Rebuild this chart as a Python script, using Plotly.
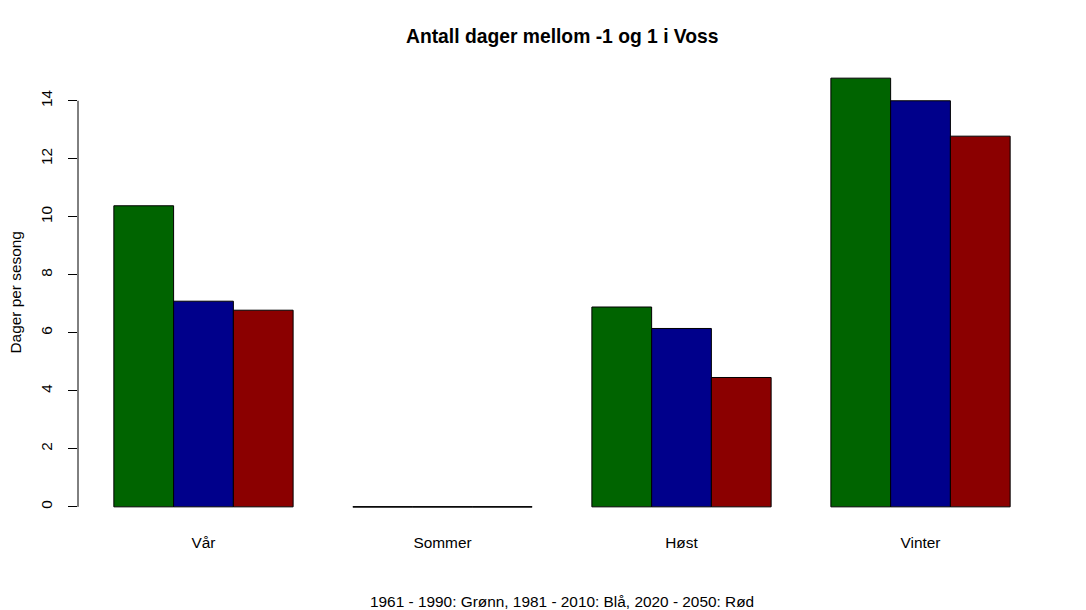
import plotly.graph_objects as go

categories = ["Vår", "Sommer", "Høst", "Vinter"]
series_names = ["1961 - 1990", "1981 - 2010", "2020 - 2050"]
values_1961_1990 = [10.38, 0, 6.89, 14.78]
values_1981_2010 = [7.09, 0, 6.15, 14.0]
values_2020_2050 = [6.78, 0, 4.46, 12.78]
series_values = [values_1961_1990, values_1981_2010, values_2020_2050]
colors = ["#006400", "#00008B", "#8B0000"]
y_ticks = [0, 2, 4, 6, 8, 10, 12, 14]

title = "Antall dager mellom -1 og 1 i Voss"
ylab = "Dager per sesong"
xlab = "1961 - 1990: Grønn, 1981 - 2010: Blå, 2020 - 2050: Rød"

FONT = "Liberation Sans, Arial, sans-serif"
FS = 15.4

fig = go.Figure()
for name, vals, col in zip(series_names, series_values, colors):
    fig.add_trace(go.Bar(
        x=categories, y=vals, name=name,
        marker=dict(color=col, line=dict(color="black", width=1)),
    ))

bargap = 0.25
n = len(series_values)
bar_w = (1 - bargap) / n
shapes = []
# zero-height bars are drawn by R as a flat outline
for i, cat in enumerate(categories):
    for j, vals in enumerate(series_values):
        if vals[i] == 0:
            x0 = i - (1 - bargap) / 2 + j * bar_w
            shapes.append(dict(type="line", xref="x", yref="y",
                               x0=x0, x1=x0 + bar_w, y0=0, y1=0,
                               line=dict(color="black", width=1)))
# y axis line from first to last tick
shapes.append(dict(type="line", xref="paper", yref="y", x0=0, x1=0,
                   y0=y_ticks[0], y1=y_ticks[-1],
                   line=dict(color="black", width=1)))

ymax = max(max(v) for v in series_values)
pad = 0.04 * ymax

fig.update_layout(
    width=1078, height=602,
    margin=dict(l=70, r=40, t=53, b=86),
    paper_bgcolor="white", plot_bgcolor="white",
    barmode="group", bargap=bargap, bargroupgap=0,
    showlegend=False,
    font=dict(family=FONT, size=FS, color="black"),
    shapes=shapes,
    xaxis=dict(
        type="category", range=[-0.525, len(categories) - 1 + 0.525],
        showline=False, showgrid=False, zeroline=False, ticks="",
        tickfont=dict(family=FONT, size=FS, color="black"),
        ticklabelstandoff=8,
    ),
    yaxis=dict(
        range=[-pad, ymax + pad],
        tickvals=y_ticks, ticktext=[str(t) for t in y_ticks],
        showline=False, showgrid=False, zeroline=False,
        ticks="outside", ticklen=9, tickwidth=1, tickcolor="black",
        tickangle=-90, ticklabelstandoff=10,
        tickfont=dict(family=FONT, size=FS, color="black"),
    ),
    annotations=[
        dict(text="<b>" + title + "</b>", xref="paper", yref="paper",
             x=0.5, y=1, yanchor="middle", yshift=25, showarrow=False,
             font=dict(family=FONT, size=19.3, color="black")),
        dict(text=ylab, xref="paper", yref="paper", x=0, y=0.5,
             xanchor="center", yanchor="middle", xshift=-63, textangle=-90,
             showarrow=False, font=dict(family=FONT, size=FS, color="black")),
        dict(text=xlab, xref="paper", yref="paper", x=0.5, y=0,
             yanchor="middle", yshift=-77, showarrow=False,
             font=dict(family=FONT, size=FS, color="black")),
    ],
)

fig.write_html("out.html")
